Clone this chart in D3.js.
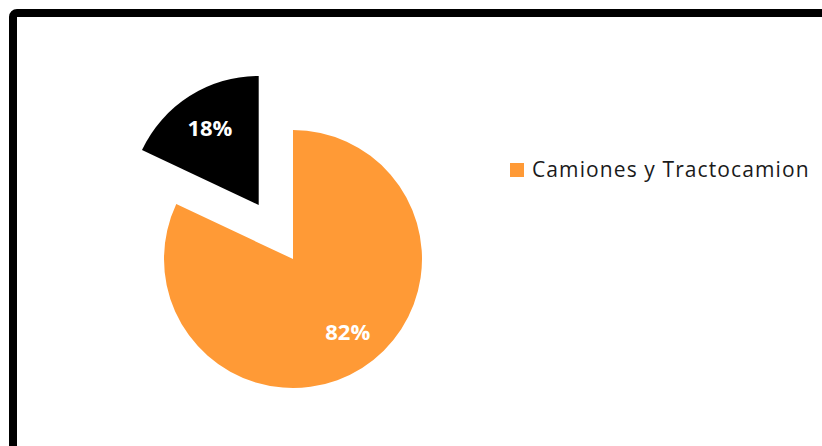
<!DOCTYPE html>
<html>
<head>
<meta charset="utf-8">
<script src="https://cdn.jsdelivr.net/npm/d3@7"></script>
<style>
  body { margin: 0; background: #fff; }
  svg { display: block; }
</style>
</head>
<body>
<script>
// data
const categories = ["Camiones y Tractocamion", "Otros"];
const values = [82, 18];
const legendItems = ["Camiones y Tractocamion"];

const w = 822;
const h = 446;
const radius = 129;
const cx = 293;
const cy = 259;
const explode = 64; // offset for the pulled-out slice
const labelRadius = 91;

const color = d3.scaleOrdinal().domain(categories).range(["#ff9a36", "#000000"]);

const svg = d3
  .select("body")
  .append("svg")
  .attr("width", w)
  .attr("height", h);

// chart frame (runs off the right and bottom edge)
svg
  .append("rect")
  .attr("x", 13)
  .attr("y", 13)
  .attr("width", w)
  .attr("height", h)
  .attr("rx", 4)
  .attr("fill", "#fff")
  .attr("stroke", "#000")
  .attr("stroke-width", 8);

const data = categories.map((c, i) => ({ name: c, value: values[i] }));

const pie = d3.pie().sort(null).value((d) => d.value);
const arcs = pie(data);

const arc = d3.arc().innerRadius(0).outerRadius(radius);
const labelArc = d3.arc().innerRadius(labelRadius).outerRadius(labelRadius);

// offset of each slice, only the small one is pulled out
const offset = (d, i) => {
  if (i === 0) return [0, 0];
  const mid = (d.startAngle + d.endAngle) / 2;
  return [Math.sin(mid) * explode, -Math.cos(mid) * explode];
};

const slices = svg
  .append("g")
  .attr("transform", `translate(${cx},${cy})`)
  .selectAll("g")
  .data(arcs)
  .enter()
  .append("g")
  .attr("transform", (d, i) => {
    const o = offset(d, i);
    return `translate(${o[0]},${o[1]})`;
  });

slices
  .append("path")
  .attr("d", arc)
  .attr("fill", (d) => color(d.data.name));

slices
  .append("text")
  .attr("transform", (d, i) => {
    const c = labelArc.centroid(d);
    // the big slice label sits a little further right
    return i === 0 ? `translate(${c[0] + 6},${c[1] - 4})` : `translate(${c})`;
  })
  .attr("text-anchor", "middle")
  .attr("dy", "0.35em")
  .attr("fill", "#fff")
  .attr("font-family", "'Open Sans', sans-serif")
  .attr("font-weight", "bold")
  .attr("font-size", 22)
  .text((d) => d.data.value + "%");

// legend
const legend = svg
  .append("g")
  .attr("transform", "translate(510,163)")
  .selectAll("g")
  .data(legendItems)
  .enter()
  .append("g")
  .attr("transform", (d, i) => `translate(0,${i * 26})`);

legend
  .append("rect")
  .attr("width", 14)
  .attr("height", 14)
  .attr("fill", (d) => color(d));

legend
  .append("text")
  .attr("x", 22)
  .attr("y", 7)
  .attr("dy", "0.35em")
  .attr("fill", "#1a1a1a")
  .attr("font-family", "'Open Sans', sans-serif")
  .attr("font-size", 21)
  .attr("letter-spacing", 1.1)
  .text((d) => d);
</script>
</body>
</html>
